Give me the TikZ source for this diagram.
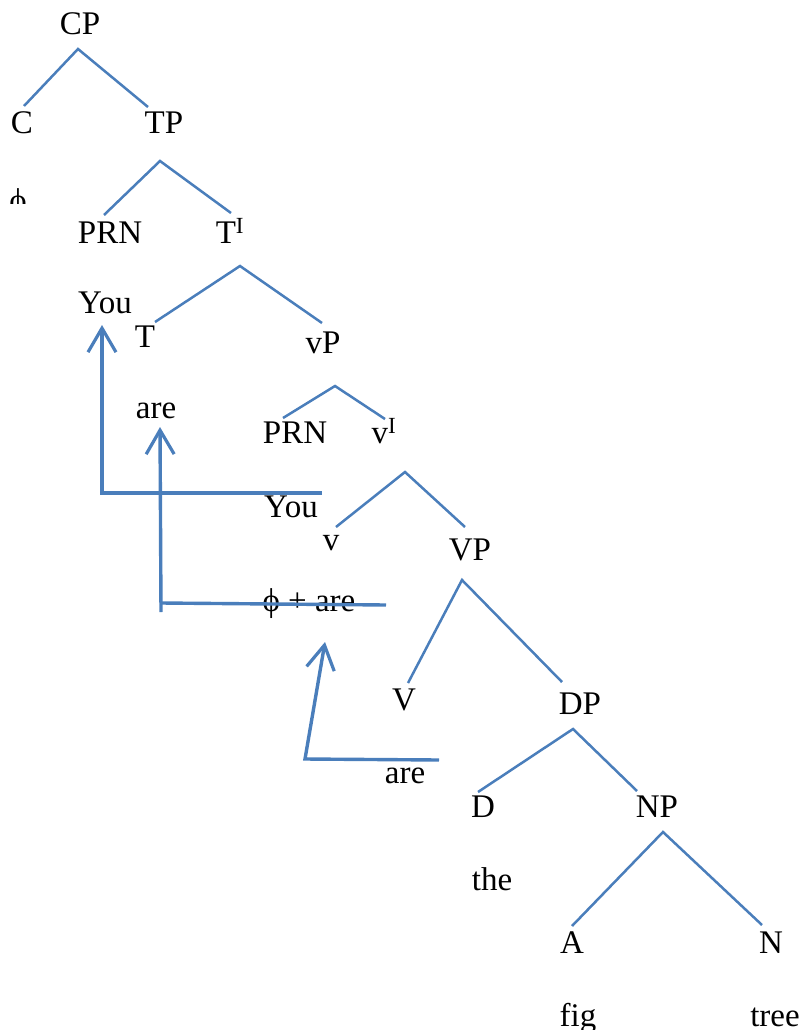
\documentclass[tikz,border=0pt]{standalone}
\usepackage{fontspec}
\setmainfont{Liberation Serif}
\usetikzlibrary{arrows.meta}
\definecolor{treeblue}{RGB}{74,126,187}
\begin{document}
\begin{tikzpicture}[x=1pt,y=-1pt,
  lbl/.style={font=\fontsize{33}{39}\selectfont, inner sep=0pt, anchor=base},
  branch/.style={draw=treeblue, line width=2.5pt},
  movement/.style={draw=treeblue, line width=3.4pt, line join=miter},
  barb/.style={-{Straight Barb[length=24pt,width=28pt,line width=3.2pt]}}]
\useasboundingbox (0,0) rectangle (804,1030);
\clip (0,0) rectangle (804,1030);
% labels
\node[lbl] (CP) at (80,35) {CP};
\node[lbl] (C) at (22,133) {C};
\node[lbl] (TP) at (164,133) {TP};
\begin{scope}
  \clip (0,180) rectangle (60,203);
  \node[lbl] (phi1) at (18,211) {ϕ};
\end{scope}
\node[lbl] (PRN1) at (110,243) {PRN};
\node[lbl] (Tbar) at (230,243) {T\textsuperscript{I}};
\node[lbl] (You1) at (105,313) {You};
\node[lbl] (T) at (145,347) {T};
\node[lbl] (vP) at (323,353) {vP};
\node[lbl] (are1) at (156,418) {are};
\node[lbl] (PRN2) at (295,443) {PRN};
\node[lbl] (vbar) at (384,443) {v\textsuperscript{I}};
\node[lbl] (You2) at (291,517) {You};
\node[lbl] (v) at (331,550) {v};
\node[lbl] (VP) at (470,560) {VP};
\node[lbl] (phiare) at (309,611) {ϕ + are};
\node[lbl] (V) at (404,710) {V};
\node[lbl] (DP) at (580,714) {DP};
\node[lbl] (are3) at (405,783) {are};
\node[lbl] (D) at (483,817) {D};
\node[lbl] (NP) at (657,817) {NP};
\node[lbl] (the) at (492,890) {the};
\node[lbl] (A) at (572,953) {A};
\node[lbl] (N) at (771,953) {N};
\node[lbl] (fig) at (578,1026) {fig};
\node[lbl] (tree) at (775,1026) {tree};
% branch points
\coordinate (cpTop) at (78,49);  \coordinate (cL) at (24,106);  \coordinate (tpR) at (148,107);
\coordinate (tpTop) at (160,161); \coordinate (prnL) at (104,215); \coordinate (tbR) at (231,213);
\coordinate (tbTop) at (240,266); \coordinate (tL) at (155,322); \coordinate (vpR) at (322,323);
\coordinate (vpTop) at (335,386); \coordinate (prn2L) at (283,418); \coordinate (vbR) at (385,419);
\coordinate (vbTop) at (405,472); \coordinate (vL) at (336,527); \coordinate (VPR) at (465,527);
\coordinate (VPTop) at (462,580); \coordinate (VL) at (408,683); \coordinate (DPR) at (562,682);
\coordinate (DPTop) at (573,729); \coordinate (DL) at (478,792); \coordinate (NPR) at (637,791);
\coordinate (NPTop) at (663,832); \coordinate (AL) at (572,926); \coordinate (NR) at (762,925);
\draw[branch] (cL) -- (cpTop) -- (tpR);
\draw[branch] (prnL) -- (tpTop) -- (tbR);
\draw[branch] (tL) -- (tbTop) -- (vpR);
\draw[branch] (prn2L) -- (vpTop) -- (vbR);
\draw[branch] (vL) -- (vbTop) -- (VPR);
\draw[branch] (VL) -- (VPTop) -- (DPR);
\draw[branch] (DL) -- (DPTop) -- (NPR);
\draw[branch] (AL) -- (NPTop) -- (NR);
% movement arrows
\coordinate (m1start) at (322,493); \coordinate (m1corner) at (102,493); \coordinate (m1tip) at (102,325);
\coordinate (m2start) at (386,605); \coordinate (m2corner) at (161,603); \coordinate (m2tail) at (161,612); \coordinate (m2tip) at (160,427);
\coordinate (m3start) at (439,760); \coordinate (m3corner) at (305,759); \coordinate (m3tip) at (325,642);
\draw[movement, barb] (m1start) -- (m1corner) -- (m1tip);
\draw[movement] (m2start) -- (m2corner);
\draw[movement, barb] (m2tail) -- (m2tip);
\draw[movement, barb] (m3start) -- (m3corner) -- (m3tip);
\end{tikzpicture}
\end{document}
